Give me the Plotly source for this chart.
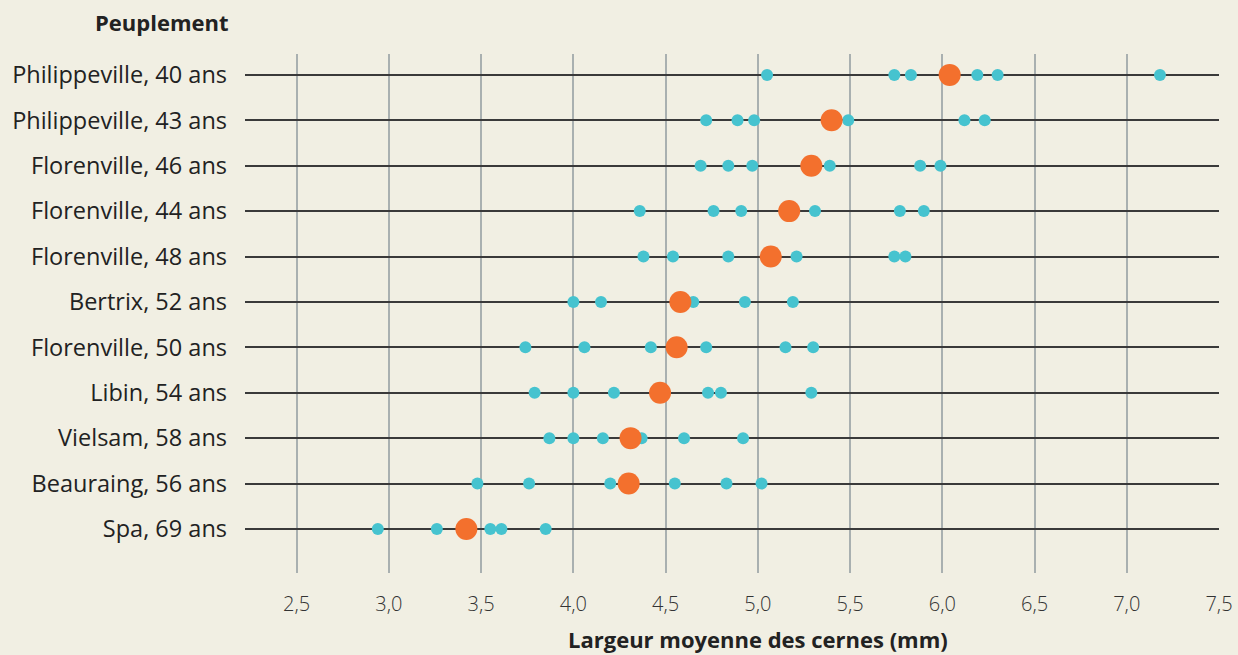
import plotly.graph_objects as go

stands = ["Philippeville, 40 ans", "Philippeville, 43 ans", "Florenville, 46 ans",
          "Florenville, 44 ans", "Florenville, 48 ans", "Bertrix, 52 ans",
          "Florenville, 50 ans", "Libin, 54 ans", "Vielsam, 58 ans",
          "Beauraing, 56 ans", "Spa, 69 ans"]

trees = [
    [5.05, 5.74, 5.83, 6.19, 6.30, 7.18],
    [4.72, 4.89, 4.98, 5.49, 6.12, 6.23],
    [4.69, 4.84, 4.97, 5.39, 5.88, 5.99],
    [4.36, 4.76, 4.91, 5.31, 5.77, 5.90],
    [4.38, 4.54, 4.84, 5.21, 5.74, 5.80],
    [4.00, 4.15, 4.65, 4.93, 5.19],
    [3.74, 4.06, 4.42, 4.72, 5.15, 5.30],
    [3.79, 4.00, 4.22, 4.73, 4.80, 5.29],
    [3.87, 4.00, 4.16, 4.37, 4.60, 4.92],
    [3.48, 3.76, 4.20, 4.55, 4.83, 5.02],
    [2.94, 3.26, 3.55, 3.61, 3.85],
]

means = [6.04, 5.40, 5.29, 5.17, 5.07, 4.58, 4.56, 4.47, 4.31, 4.30, 3.42]

tick_vals = [2.5, 3.0, 3.5, 4.0, 4.5, 5.0, 5.5, 6.0, 6.5, 7.0, 7.5]
tick_text = ["2,5", "3,0", "3,5", "4,0", "4,5", "5,0", "5,5", "6,0", "6,5", "7,0", "7,5"]

BG = "#f1efe3"
TEAL = "#46c3cf"
ORANGE = "#f3702d"

tx, ty = [], []
for s, vals in zip(stands, trees):
    for v in vals:
        tx.append(v)
        ty.append(s)

fig = go.Figure()
fig.add_trace(go.Scatter(x=tx, y=ty, mode="markers",
                         marker=dict(color=TEAL, size=12, line=dict(width=0)),
                         showlegend=False, cliponaxis=False, hoverinfo="x+y"))
fig.add_trace(go.Scatter(x=means, y=stands, mode="markers",
                         marker=dict(color=ORANGE, size=22, line=dict(width=0)),
                         showlegend=False, cliponaxis=False, hoverinfo="x+y"))

fig.update_layout(
    width=1238, height=655,
    paper_bgcolor=BG, plot_bgcolor=BG,
    margin=dict(l=245, r=19, t=54, b=82),
    font=dict(family="Fira Sans, Open Sans, sans-serif", color="#222"),
    xaxis=dict(
        range=[2.22, 7.5], tickvals=tick_vals, ticktext=tick_text,
        showgrid=True, gridcolor="#a9b0b0", gridwidth=2,
        zeroline=False, showline=False, ticks="", automargin=False,
        tickfont=dict(family="Open Sans, sans-serif", size=20, color="#333", weight=300),
        ticklabelstandoff=17,
    ),
    yaxis=dict(
        type="category", categoryarray=stands,
        range=[10.97, -0.46],
        showgrid=True, gridcolor="#3a3a3a", gridwidth=1.5,
        zeroline=False, showline=False, ticks="", automargin=False,
        tickfont=dict(family="Open Sans, sans-serif", size=23.5, color="#222"),
        ticklabelstandoff=17,
    ),
    annotations=[
        dict(text="<b>Peuplement</b>", xref="paper", yref="paper",
             x=0, y=1, xshift=-14, yshift=32, xanchor="right", yanchor="middle",
             showarrow=False,
             font=dict(family="Open Sans, sans-serif", size=22, color="#222")),
        dict(text="<b>Largeur moyenne des cernes (mm)</b>", xref="x", yref="paper",
             x=5.0, y=0, yshift=-66, xanchor="center", yanchor="middle",
             showarrow=False,
             font=dict(family="Open Sans, sans-serif", size=22, color="#222")),
    ],
)

fig.write_html("out.html", config={"displayModeBar": False},
               post_script="document.body.style.margin='0';")
